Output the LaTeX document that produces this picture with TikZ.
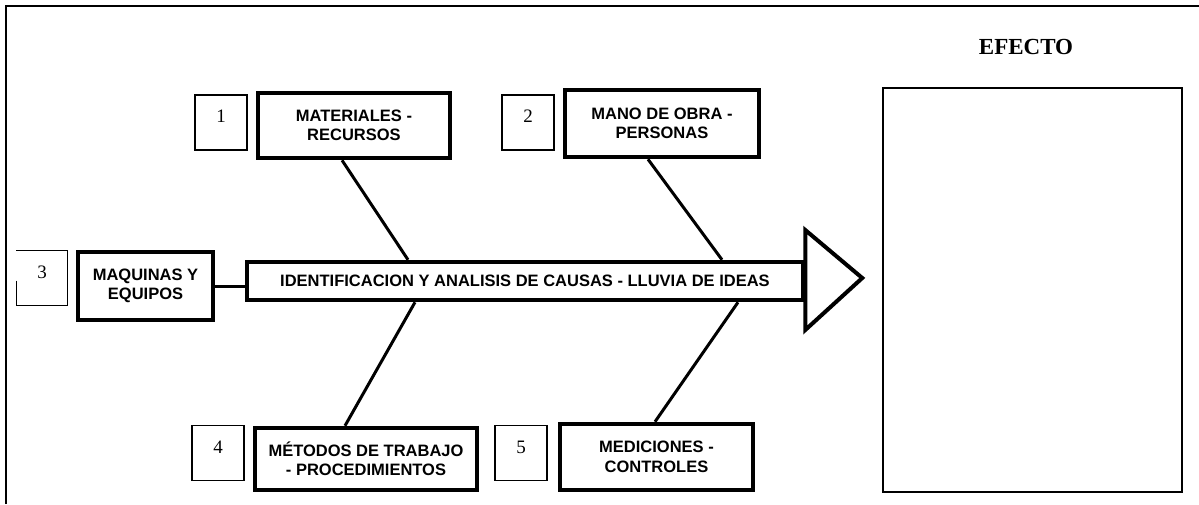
\documentclass[tikz,border=0pt]{standalone}
\usepackage{fontspec}
\setmainfont{Liberation Serif}
\newfontfamily\causafont{Liberation Sans}
\usetikzlibrary{
    positioning,
    calc
}

\begin{document}
\begin{tikzpicture}[
    x=1pt, y=-1pt,
    node distance=8pt,
    causa/.style={rectangle, draw=black, line width=4.5pt, align=center,
                  inner sep=2pt, font=\causafont\bfseries\fontsize{16.5}{19.5}\selectfont},
    numero/.style={rectangle, draw=black, line width=1.3pt,
                   minimum width=52pt, minimum height=55pt, text depth=12pt,
                   font=\fontsize{19}{20}\selectfont, anchor=center},
    hueso/.style={line width=3pt},
    espina/.style={line width=4pt}
]
    \useasboundingbox (0,0) rectangle (1199,504);

    % Marco
    \draw [line width=2pt] (6,504) -- (6,6) -- (1199,6);

    % Espina central
    \node (spine) [causa, minimum width=556pt, minimum height=38pt] at (525,281)
        {IDENTIFICACION Y ANALISIS DE CAUSAS - LLUVIA DE IDEAS};
    \draw [espina, line join=miter] ($(spine.east)+(0,-51)$) -- ($(spine.east)+(57,-3)$)
        -- ($(spine.east)+(0,49)$) -- cycle;

    % Causas
    \node (mat) [causa, minimum width=192pt, minimum height=65pt] at (354,125.5)
        {MATERIALES -\\RECURSOS};
    \node (mano) [causa, minimum width=194pt, minimum height=67pt] at (662,123.5)
        {MANO DE OBRA -\\PERSONAS};
    \node (maq) [causa, minimum width=135pt, minimum height=68pt] at (145.5,286)
        {MAQUINAS Y\\EQUIPOS};
    \node (met) [causa, minimum width=222pt, minimum height=62pt] at (366,459)
        {MÉTODOS DE TRABAJO\\- PROCEDIMIENTOS};
    \node (med) [causa, minimum width=193pt, minimum height=66pt] at (656.5,457)
        {MEDICIONES -\\CONTROLES};

    % Numeros
    \node (n1) [numero, left=of mat, yshift=3pt] {1};
    \node (n2) [numero, left=of mano, yshift=1pt] {2};
    \node (n3) [numero, draw=none, minimum width=50pt, minimum height=54pt,
                left=of maq, yshift=8pt] {3};
    \draw [line width=1.3pt] ($(n3.south west)+(0,-25)$) -- (n3.south west)
        -- (n3.south east) -- (n3.north east) -- (n3.north west);
    \node (n4) [numero, left=of met, yshift=6pt] {4};
    \node (n5) [numero, left=10pt of med, yshift=4pt] {5};

    % Huesos
    \draw [hueso] ([xshift=-12pt]mat.south) -- ([xshift=-117pt]spine.north);
    \draw [hueso] ([xshift=-14pt]mano.south) -- ([xshift=197pt]spine.north);
    \draw [hueso] (maq.east) -- (maq.east -| spine.west);
    \draw [hueso] ([xshift=-21pt]met.north) -- ([xshift=-110pt]spine.south);
    \draw [hueso] ([xshift=-1.5pt]med.north) -- ([xshift=213pt]spine.south);

    % Efecto
    \node (titulo) [font=\bfseries\fontsize{23}{26}\selectfont] at (1026,47) {EFECTO};
    \node (efecto) [draw=black, line width=2pt, minimum width=299pt,
                    minimum height=404pt] at (1032.5,290) {};

\end{tikzpicture}
\end{document}
